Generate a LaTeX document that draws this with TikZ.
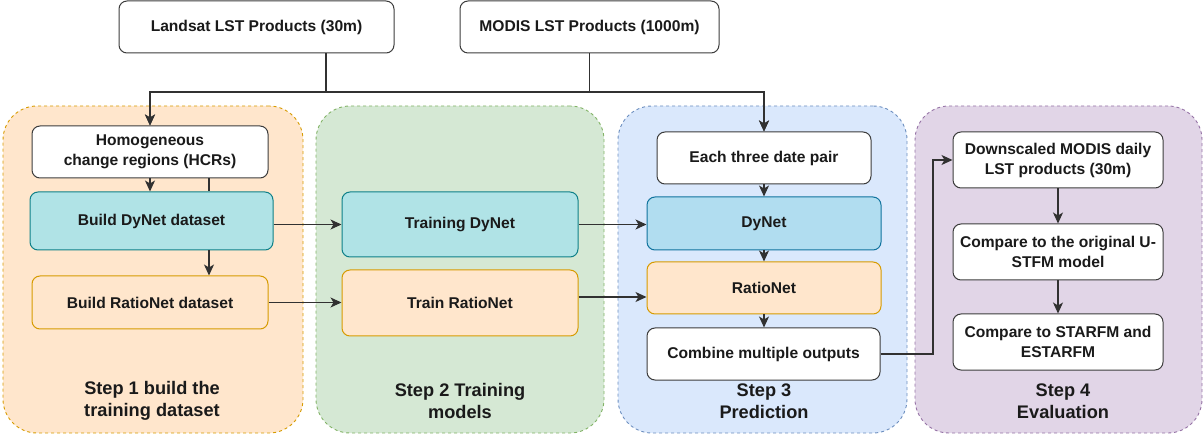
\documentclass[tikz,border=0pt]{standalone}
\usepackage{fontspec}
\setmainfont{Liberation Sans}
\usetikzlibrary{arrows.meta}
\definecolor{txt}{HTML}{1A1A1A}
\definecolor{orfill}{HTML}{FFE6CC}
\definecolor{ordraw}{HTML}{D79B00}
\definecolor{grfill}{HTML}{D5E8D4}
\definecolor{grdraw}{HTML}{82B366}
\definecolor{blfill}{HTML}{DAE8FC}
\definecolor{bldraw}{HTML}{6C8EBF}
\definecolor{pufill}{HTML}{E1D5E7}
\definecolor{pudraw}{HTML}{9673A6}
\definecolor{tefill}{HTML}{B0E3E6}
\definecolor{tedraw}{HTML}{0E8088}
\definecolor{skfill}{HTML}{B1DDF0}
\definecolor{skdraw}{HTML}{10739E}
\begin{document}
\begin{tikzpicture}[x=1pt,y=-1pt]
		\tikzstyle{stage}=[draw,
			dash pattern=on 3pt off 3pt,
			rounded corners=34pt,
			line width=0.9pt,
			];
		\tikzstyle{steplabel}=[align=center,
			text=txt,
			font=\fontsize{18.2}{21.5}\selectfont\bfseries,
			];
		\tikzstyle{box}=[draw,
			rounded corners=8pt,
			line width=1pt,
			align=center,
			text=txt,
			font=\fontsize{15.6}{20}\selectfont\bfseries,
			];
		\tikzstyle{plainbox}=[box,fill=white,draw=txt!85];
		\tikzstyle{dynbox}=[box,fill=tefill,draw=tedraw];
		\tikzstyle{netbox}=[box,fill=skfill,draw=skdraw];
		\tikzstyle{ratbox}=[box,fill=orfill,draw=ordraw];
		\tikzstyle{link}=[-{Stealth[length=11pt,width=10pt,inset=3pt]},
			line width=1.2pt,
			draw=txt!90,
			];

		\useasboundingbox (0,0) rectangle (1204,435);

		\node [stage,fill=orfill,draw=ordraw] (step1) at (153,269.5) [minimum width=300,minimum height=327] {};
		\node [stage,fill=grfill,draw=grdraw] (step2) at (460,269.5) [minimum width=288,minimum height=327] {};
		\node [stage,fill=blfill,draw=bldraw] (step3) at (762.5,269.5) [minimum width=289,minimum height=327] {};
		\node [stage,fill=pufill,draw=pudraw] (step4) at (1058.5,269.5) [minimum width=287,minimum height=327] {};

		\node [steplabel] (lab1) at (152,401) {Step 1 build the\\training dataset};
		\node [steplabel] (lab2) at (460,401) {Step 2 Training\\models};
		\node [steplabel] (lab3) at (764,401) {Step 3\\Prediction};
		\node [steplabel] (lab4) at (1063,401) {Step 4\\Evaluation};

		\node [plainbox] (landsat) at (256.5,27) [minimum width=275,minimum height=52] {Landsat LST Products (30m)};
		\node [plainbox] (modis) at (589.5,27) [minimum width=259,minimum height=52] {MODIS LST Products (1000m)};

		\node [plainbox] (hcr) at (150,152) [minimum width=236,minimum height=52] {Homogeneous\\change regions (HCRs)};
		\node [dynbox] (dyds) at (151.5,221) [minimum width=243,minimum height=58] {Build DyNet dataset};
		\node [ratbox] (rads) at (150,302.5) [minimum width=236,minimum height=53] {Build RatioNet dataset};

		\node [dynbox] (traind) at (460,224.5) [minimum width=236,minimum height=65] {Training DyNet};
		\node [ratbox] (trainr) at (460,303) [minimum width=236,minimum height=66] {Train RatioNet};

		\node [plainbox] (each) at (764,158) [minimum width=214,minimum height=52] {Each three date pair};
		\node [netbox] (dynet) at (764,223.5) [minimum width=234,minimum height=53] {DyNet};
		\node [ratbox] (ratio) at (764,288) [minimum width=234,minimum height=52] {RatioNet};
		\node [plainbox] (comb) at (763.5,354) [minimum width=233,minimum height=52] {Combine multiple outputs};

		\node [plainbox] (down) at (1058,160) [minimum width=210,minimum height=56] {Downscaled MODIS daily\\LST products (30m)};
		\node [plainbox] (cmpu) at (1058,252) [minimum width=210,minimum height=56] {Compare to the original U-\\STFM model};
		\node [plainbox] (cmps) at (1058,342) [minimum width=210,minimum height=56] {Compare to STARFM and\\ESTARFM};

		\coordinate (lsdrop) at (326,92);
		\coordinate (mddrop) at (589.5,92);
		\coordinate (hcrtap) at (209,0);
		\coordinate (bend) at (933,0);
		\coordinate (trout) at ([yshift=6pt]trainr.east);

		\draw [link] (landsat.south -| lsdrop) -- (lsdrop) -| (hcr.north);
		\draw [link] (landsat.south -| lsdrop) -- (lsdrop) -| (each.north);
		\draw [link] (modis.south) -- (mddrop) -| (hcr.north);
		\draw [link] (modis.south) -- (mddrop) -| (each.north);

		\draw [link] (hcr.south) -- (hcr.south |- dyds.north);
		\draw [line width=1.2pt,draw=txt!90] (hcr.south -| hcrtap) -- (dyds.north -| hcrtap);
		\draw [link] (dyds.south -| hcrtap) -- (rads.north -| hcrtap);

		\draw [link] (dyds.east |- traind.west) -- (traind.west);
		\draw [link] (rads.east) -- (rads.east -| trainr.west);
		\draw [link] (traind.east) -- (traind.east -| dynet.west);
		\draw [link] (trout) -- (trout -| ratio.west);

		\draw [link] (each) -- (dynet);
		\draw [link] (dynet) -- (ratio);
		\draw [link] (ratio) -- (comb.north -| ratio);
		\draw [link] (comb.east) -- (comb.east -| bend) |- (down.west);

		\draw [link] (down) -- (cmpu);
		\draw [link] (cmpu) -- (cmps);
	\end{tikzpicture}
\end{document}
